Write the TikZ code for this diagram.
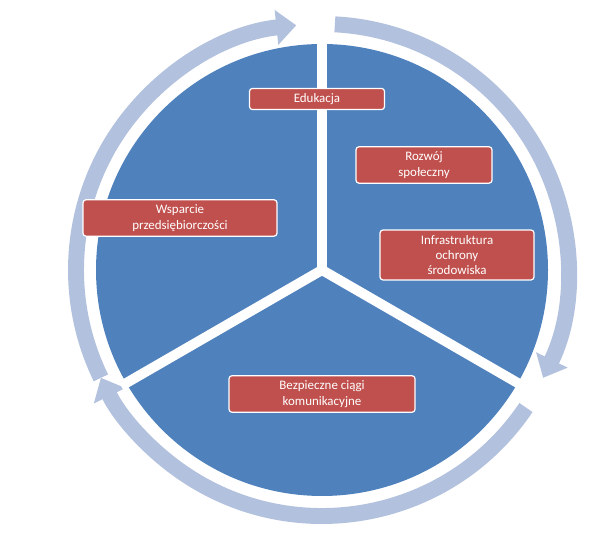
\documentclass[tikz,border=0pt]{standalone}
\usepackage{fontspec}
\setmainfont{Carlito}
\usetikzlibrary{arrows.meta}
\definecolor{pieblue}{RGB}{79,129,189}
\definecolor{ringblue}{RGB}{178,193,221}
\definecolor{boxred}{RGB}{192,80,77}
\tikzset{
	topic/.style={draw=white, line width=1.2pt, fill=boxred, rounded corners=3,
		text=white, font=\fontsize{13}{15.5}\selectfont, align=center, inner sep=5pt},
	cycle/.style={draw=ringblue, line width=16pt,
		-{Triangle[width=34pt,length=20pt]}},
	gap/.style={draw=white, line width=10pt}
}
\begin{document}
\begin{tikzpicture}[x=1bp, y=1bp]
	\useasboundingbox (0,0) rectangle (608,548);
	\coordinate (m) at (322,278);

	% ring arrows
	\draw[cycle] ([shift={(87:246)}]m) arc (87:-26:246);
	\draw[cycle] ([shift={(-34:246)}]m) arc (-34:-154:246);
	\draw[cycle] ([shift={(206:246)}]m) arc (206:96:246);

	% pie
	\fill[pieblue] (m) circle (226);
	\draw[gap] (m) -- ++(90:232);
	\draw[gap] (m) -- ++(-30:232);
	\draw[gap] (m) -- ++(210:232);

	% topics
	\node[topic, minimum width=135bp] (edu) at (317,449) {Edukacja};
	\node[topic, minimum width=136bp] (rozw) at (424,383) {Rozwój\\społeczny};
	\node[topic, minimum width=154bp] (infra) at (457,293) {Infrastruktura\\ochrony\\środowiska};
	\node[topic, minimum width=194bp] (wsp) at (180,330) {Wsparcie\\przedsiębiorczości};
	\node[topic, minimum width=186bp] (bezp) at (322,154) {Bezpieczne ciągi\\komunikacyjne};
\end{tikzpicture}
\end{document}
